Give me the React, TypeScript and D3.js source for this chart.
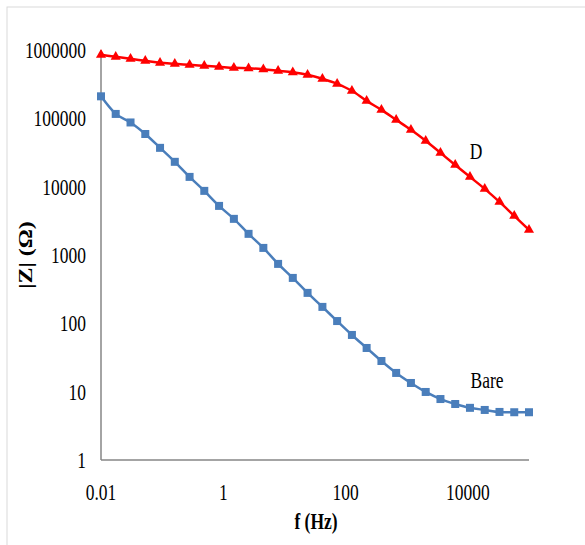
import React from "react";
import * as d3 from "d3";

const freq = [
  0.01, 0.0174, 0.0304, 0.053, 0.0924, 0.161, 0.281, 0.489, 0.853, 1.49,
  2.59, 4.52, 7.88, 13.7, 23.9, 41.8, 72.8, 127, 221, 386,
  672, 1172, 2044, 3563, 6212, 10830, 18882, 32919, 57390, 100000,
];

// |Z| for coating D (ohm)
const zD = [
  850000, 795000, 743000, 695000, 650000, 628000, 607000, 587000, 568000, 549000,
  540000, 522000, 496000, 471000, 433000, 379000, 320000, 253000, 180000, 133000,
  95100, 67900, 46900, 31200, 20800, 13900, 9290, 5980, 3730, 2330,
];

// |Z| for bare substrate (ohm)
const zBare = [
  210000, 116000, 87000, 59000, 37000, 23100, 13900, 8680, 5230, 3380,
  2040, 1270, 741, 462, 279, 174, 108, 67.6, 43.6, 28.1,
  18.8, 13.4, 9.9, 7.8, 6.6, 5.8, 5.4, 5.05, 5.0, 5.0,
];

const xTicks = [0.01, 1, 100, 10000];
const yTicks = [1, 10, 100, 1000, 10000, 100000, 1000000];

const W = 585;
const H = 545;
const left = 101;
const right = 529;
const top = 50;
const bottom = 460;
const font = "Liberation Serif, Times New Roman, serif";
const fs = 23;
const sx = 0.76; // the source picture is squeezed sideways

// text squeezed horizontally around its anchor point
const Label: React.FC<{
  x: number;
  y: number;
  anchor: "start" | "middle" | "end";
  bold?: boolean;
  children: React.ReactNode;
}> = ({ x, y, anchor, bold, children }) => (
  <text
    transform={`translate(${x},${y}) scale(${sx},1)`}
    textAnchor={anchor}
    dominantBaseline="central"
    fontFamily={font}
    fontSize={fs}
    fontWeight={bold ? "bold" : "normal"}
    fill="#000"
  >
    {children}
  </text>
);

const App: React.FC = () => {
  const x = d3.scaleLog().domain([0.01, 100000]).range([left, right]);
  const y = d3.scaleLog().domain([1, 1000000]).range([bottom, top]);

  const line = d3
    .line<[number, number]>()
    .x((d) => x(d[0]))
    .y((d) => y(d[1]))
    .curve(d3.curveMonotoneX);

  const dPts = freq.map((f, i) => [f, zD[i]] as [number, number]);
  const bPts = freq.map((f, i) => [f, zBare[i]] as [number, number]);

  const tri = d3.symbol(d3.symbolTriangle, 44)() || "";

  return (
    <svg
      width={W}
      height={H}
      style={{ position: "absolute", left: 0, top: 0, background: "#fff" }}
    >
      <rect x={7} y={7} width={700} height={700} fill="#fff" stroke="#d9d9d9" />

      {/* axes */}
      <line x1={left} x2={left} y1={top} y2={bottom} stroke="#868686" strokeWidth={1.5} />
      <line x1={left} x2={right} y1={bottom} y2={bottom} stroke="#868686" strokeWidth={1.5} />

      {yTicks.map((t) => (
        <Label key={t} x={86} y={y(t)} anchor="end">
          {t}
        </Label>
      ))}
      {xTicks.map((t) => (
        <Label key={t} x={x(t)} y={492} anchor="middle">
          {t}
        </Label>
      ))}

      <Label x={316} y={521} anchor="middle" bold>
        f (Hz)
      </Label>
      <text
        transform={`translate(26,255) rotate(-90) scale(1,${sx})`}
        textAnchor="middle"
        dominantBaseline="central"
        fontFamily={font}
        fontSize={24}
        fontWeight="bold"
      >
        |Z| (Ω)
      </text>

      {/* D series */}
      <path d={line(dPts) || ""} fill="none" stroke="#ff0000" strokeWidth={2.5} />
      {dPts.map((p, i) => (
        <path key={i} d={tri} transform={`translate(${x(p[0])},${y(p[1])})`} fill="#ff0000" />
      ))}

      {/* Bare series */}
      <path d={line(bPts) || ""} fill="none" stroke="#4a7ebb" strokeWidth={2.5} />
      {bPts.map((p, i) => (
        <rect
          key={i}
          x={x(p[0]) - 4}
          y={y(p[1]) - 4}
          width={8}
          height={8}
          fill="#4a7ebb"
        />
      ))}

      <Label x={476} y={151} anchor="middle">
        D
      </Label>
      <Label x={487} y={380} anchor="middle">
        Bare
      </Label>
    </svg>
  );
};

export default App;
